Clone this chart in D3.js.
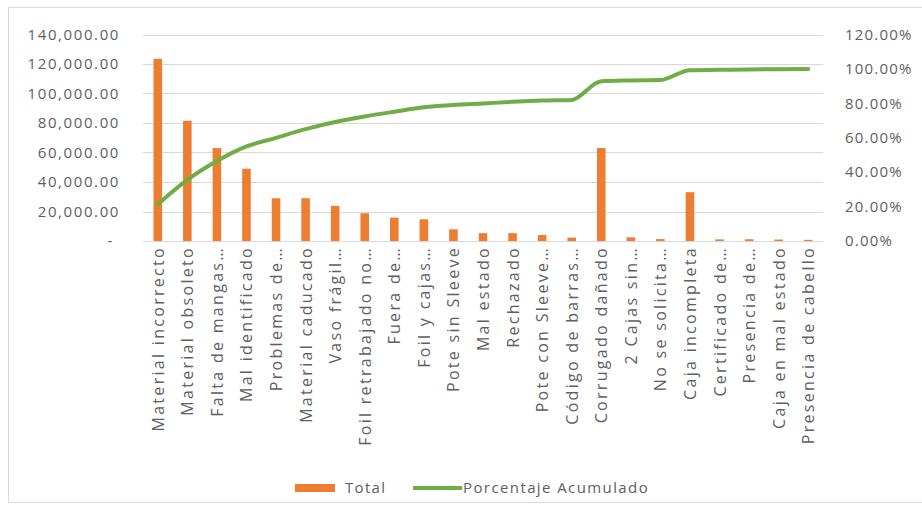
<!DOCTYPE html>
<html>
<head>
<meta charset="utf-8">
<script src="https://cdn.jsdelivr.net/npm/d3@7/dist/d3.min.js"></script>
<style>
  html, body { margin: 0; padding: 0; background: #ffffff; }
  svg { display: block; }
  text { font-family: "Open Sans", sans-serif; fill: #606060; }
</style>
</head>
<body>
<svg id="chart" width="922" height="520"></svg>
<script>
// Pareto chart: defect totals (bars, left axis) and cumulative share (line, right axis)
const categories = [
  "Material incorrecto", "Material obsoleto", "Falta de mangas…", "Mal identificado",
  "Problemas de…", "Material caducado", "Vaso frágil…", "Foil retrabajado no…",
  "Fuera de…", "Foil y cajas…", "Pote sin Sleeve", "Mal estado", "Rechazado",
  "Pote con Sleeve…", "Código de barras…", "Corrugado dañado", "2 Cajas sin…",
  "No se solicita…", "Caja incompleta", "Certificado de…", "Presencia de…",
  "Caja en mal estado", "Presencia de cabello"
];
const totals = [
  123500, 81500, 63000, 49000, 29000, 29000, 23800, 18800, 15850, 14700,
  7900, 5300, 5300, 4100, 2300, 63000, 2500, 1300, 33100, 1100, 1200, 1000, 800
];
const cumulativePct = [
  0.2140, 0.3553, 0.4644, 0.5493, 0.5996, 0.6499, 0.6911, 0.7237, 0.7511, 0.7766,
  0.7903, 0.7995, 0.8087, 0.8158, 0.8198, 0.9289, 0.9333, 0.9355, 0.9929, 0.9948,
  0.9969, 0.9986, 1.0000
];
const leftTicks = [0, 20000, 40000, 60000, 80000, 100000, 120000, 140000];
const rightTicks = [0, 0.2, 0.4, 0.6, 0.8, 1.0, 1.2];
const seriesNames = ["Total", "Porcentaje Acumulado"];

const svg = d3.select("#chart");
const plot = { left: 143, right: 823, top: 34.5, bottom: 241 };

// outer frame
svg.append("rect")
  .attr("x", 8.5).attr("y", 7.5).attr("width", 918).attr("height", 495)
  .attr("fill", "none").attr("stroke", "#d9d9d9").attr("stroke-width", 1);

const x = d3.scaleBand()
  .domain(categories)
  .range([plot.left, plot.right])
  .paddingInner(0.71)
  .paddingOuter(0.355);

const yLeft = d3.scaleLinear().domain([0, 140000]).range([plot.bottom, plot.top]);
const yRight = d3.scaleLinear().domain([0, 1.2]).range([plot.bottom, plot.top]);

// gridlines
svg.append("g")
  .selectAll("line")
  .data(leftTicks.slice(1))
  .join("line")
  .attr("x1", plot.left).attr("x2", plot.right)
  .attr("y1", d => Math.round(yLeft(d)) + 0.5)
  .attr("y2", d => Math.round(yLeft(d)) + 0.5)
  .attr("stroke", "#d9d9d9").attr("stroke-width", 1);

// left axis
const fmtLeft = d => d === 0 ? "-" : d3.format(",.2f")(d);
const axisL = svg.append("g")
  .attr("transform", `translate(${plot.left - 23},0)`)
  .call(d3.axisLeft(yLeft).tickValues(leftTicks).tickFormat(fmtLeft).tickSize(0).tickPadding(0));
axisL.select(".domain").remove();
axisL.selectAll("text")
  .attr("font-size", 15).attr("letter-spacing", 1.6)
  .attr("dx", d => d === 0 ? -6 : 0)
  .style("font-family", "'Open Sans', sans-serif").style("fill", "#606060");

// right axis
const axisR = svg.append("g")
  .attr("transform", `translate(${plot.right + 22},0)`)
  .call(d3.axisRight(yRight).tickValues(rightTicks).tickFormat(d3.format(".2%")).tickSize(0).tickPadding(0));
axisR.select(".domain").remove();
axisR.selectAll("text")
  .attr("font-size", 15).attr("letter-spacing", 1.2)
  .style("font-family", "'Open Sans', sans-serif").style("fill", "#606060");

// bars
svg.append("g")
  .selectAll("rect")
  .data(categories)
  .join("rect")
  .attr("x", d => x(d))
  .attr("width", x.bandwidth())
  .attr("y", (d, i) => yLeft(totals[i]))
  .attr("height", (d, i) => plot.bottom - yLeft(totals[i]))
  .attr("fill", "#ed7d31");

// category axis baseline
svg.append("line")
  .attr("x1", plot.left).attr("x2", plot.right)
  .attr("y1", plot.bottom + 0.5).attr("y2", plot.bottom + 0.5)
  .attr("stroke", "#d9d9d9").attr("stroke-width", 1);

// cumulative line
const line = d3.line()
  .x((d, i) => x(categories[i]) + x.bandwidth() / 2)
  .y(d => yRight(d))
  .curve(d3.curveMonotoneX);
svg.append("path")
  .datum(cumulativePct)
  .attr("d", line)
  .attr("fill", "none")
  .attr("stroke", "#70ad47")
  .attr("stroke-width", 4)
  .attr("stroke-linejoin", "round")
  .attr("stroke-linecap", "round");

// rotated category labels
svg.append("g")
  .selectAll("text")
  .data(categories)
  .join("text")
  .attr("transform", d => `translate(${x(d) + x.bandwidth() / 2 + 6},${plot.bottom + 5}) rotate(-90)`)
  .attr("text-anchor", "end")
  .attr("font-size", 16)
  .attr("letter-spacing", 2.3)
  .text(d => d);

// legend
const legend = svg.append("g");
legend.append("rect")
  .attr("x", 295).attr("y", 484).attr("width", 40).attr("height", 8)
  .attr("fill", "#ed7d31");
legend.append("text")
  .attr("x", 345).attr("y", 493).attr("font-size", 15).attr("letter-spacing", 1.3)
  .text(seriesNames[0]);
legend.append("line")
  .attr("x1", 413).attr("x2", 462).attr("y1", 488).attr("y2", 488)
  .attr("stroke", "#70ad47").attr("stroke-width", 4);
legend.append("text")
  .attr("x", 463).attr("y", 493).attr("font-size", 15).attr("letter-spacing", 1.4)
  .text(seriesNames[1]);
</script>
</body>
</html>
